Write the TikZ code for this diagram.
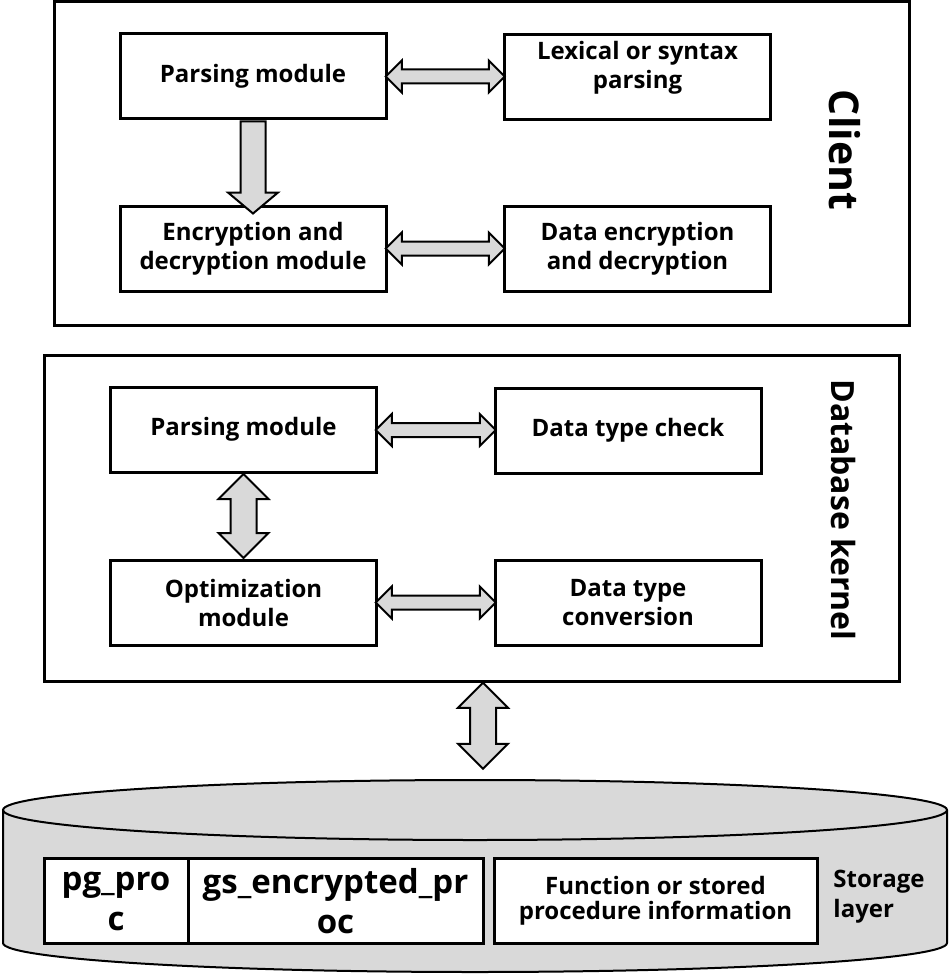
\documentclass[tikz,border=0pt]{standalone}
\usepackage{fontspec}
\setmainfont{Open Sans}
\usetikzlibrary{positioning,shapes.arrows,calc}
\definecolor{arrowgray}{HTML}{D9D9D9}
\definecolor{cylgray}{HTML}{D9D9D9}

\begin{document}
\begin{tikzpicture}[x=0.5pt, y=-0.5pt,
  font=\fontsize{12}{14.5}\selectfont\bfseries,
  frame/.style={draw, line width=1.5pt, minimum width=427.5pt, inner sep=0pt},
  mod/.style={draw, line width=1.5pt, fill=white, align=center, minimum width=133pt, minimum height=42.5pt, inner sep=2pt},
  harrow/.style={double arrow, draw, line width=1pt, fill=arrowgray, inner xsep=0pt, inner ysep=3pt, minimum width=15pt, double arrow head extend=4.5pt},
  varrow/.style={double arrow, draw, line width=1pt, fill=arrowgray, inner xsep=0pt, inner ysep=6pt, minimum width=24pt, double arrow head extend=6pt, rotate=90},
  sarrow/.style={single arrow, draw, line width=1pt, fill=arrowgray, inner xsep=0pt, inner ysep=5.75pt, minimum width=24pt, single arrow head extend=6.25pt, single arrow tip angle=100, rotate=-90},
  lbl/.style={rotate=-90, inner sep=0pt},
]
\useasboundingbox (0,0) rectangle (950,974);

% client
\node[frame, minimum height=161.5pt] (client) at (481.5,163.5) {};
\node[mod] (cparse) at (253,76) {Parsing module};
\node[mod] (clex) at (637.5,77) {Lexical or syntax\\parsing\\[-2pt]\mbox{}};
\node[mod] (cenc) at (253,248.5) {Encryption and\\decryption module};
\node[mod] (cdata) at (637.5,248.5) {Data encryption\\and decryption};
\node[lbl, font=\fontsize{20.5}{24}\selectfont\bfseries] (clientlbl) at (845,150) {Client};

\node[harrow, minimum height=59.5pt] at ($(cparse.east)!.5!(clex.west)$) {};
\node[harrow, minimum height=59.5pt] at ($(cenc.east)!.5!(cdata.west)$) {};
\node[sarrow, minimum height=46pt] at ($(cparse.south)!.5!(cenc.north)$) {};

% database kernel
\node[frame, minimum height=163pt] (kernel) at (471.5,518) {};
\node[mod] (kparse) at (243.5,429.5) {Parsing module};
\node[mod] (kcheck) at (628,430.5) {Data type check};
\node[mod] (kopt) at (243.5,602.5) {Optimization\\module};
\node[mod] (kconv) at (628,602.5) {Data type\\conversion};
\node[lbl, font=\fontsize{16}{19}\selectfont\bfseries] (kernellbl) at (843,510) {Database kernel};

\node[harrow, minimum height=60pt] at ($(kparse.east)!.5!(kcheck.west)$) {};
\node[harrow, minimum height=60pt] at ($(kopt.east)!.5!(kconv.west)$) {};
\node[varrow, minimum height=42pt] at ($(kparse.south)!.5!(kopt.north)$) {};

% storage layer
\fill[cylgray] (3,810) -- (3,943)
  arc[start angle=180, end angle=360, x radius=236pt, y radius=14.5pt] -- (947,810)
  arc[start angle=0, end angle=180, x radius=236pt, y radius=15pt] -- cycle;
\draw[line width=1pt] (3,810) -- (3,943)
  arc[start angle=180, end angle=360, x radius=236pt, y radius=14.5pt] -- (947,810);
\draw[line width=1pt] (475,810) ellipse[x radius=236pt, y radius=15pt];

\coordinate (dbtop) at (483,769);
\node[varrow, minimum height=43pt] at ($(kernel.south -| dbtop)!.5!(dbtop)$) {};

\node[mod, minimum width=72pt, font=\fontsize{16.5}{20}\selectfont\bfseries] (pgproc) at (116,901) {pg\_pro\\c};
\node[mod, minimum width=147.5pt, font=\fontsize{16.5}{20}\selectfont\bfseries] (gsproc) at (335.5,901) {gs\_encrypted\_pr\\oc};
\node[mod, minimum width=161.5pt, font=\fontsize{12}{12.5}\selectfont\bfseries] (funcinfo) at (655.5,901) {Function or stored\\procedure information};
\node[align=left, inner sep=0pt, font=\fontsize{12}{15}\selectfont\bfseries] (storlbl) at (879,897) {Storage\\layer};
\end{tikzpicture}
\end{document}
